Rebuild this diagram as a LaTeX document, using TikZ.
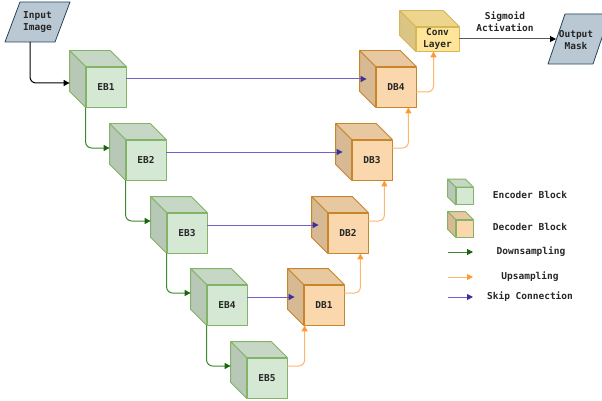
\documentclass[tikz,border=0pt]{standalone}
\usepackage{fontspec}
\setmonofont{DejaVu Sans Mono}
\usetikzlibrary{arrows.meta,calc}
\definecolor{encfill}{HTML}{D5E8D4}
\definecolor{encline}{HTML}{82B366}
\definecolor{decfill}{HTML}{FAD7AC}
\definecolor{decline}{HTML}{C8852A}
\definecolor{convfill}{HTML}{FFE599}
\definecolor{convline}{HTML}{D6B656}
\definecolor{iofill}{HTML}{BAC8D3}
\definecolor{ioline}{HTML}{23445D}
\definecolor{downc}{HTML}{3C8A2E}
\definecolor{downtip}{HTML}{1A6610}
\definecolor{upc}{HTML}{FFB570}
\definecolor{uptip}{HTML}{FF9A30}
\definecolor{skipc}{HTML}{6F63C9}
\definecolor{skiptip}{HTML}{3A2FA0}

\begin{document}
\begin{tikzpicture}[x=1pt, y=1pt, line join=round,
  font=\fontsize{9.5}{12}\selectfont\ttfamily\bfseries, text=black!85,
  enc/.style={draw=encline, fill=encfill, line width=0.8pt, minimum width=40, minimum height=40, inner sep=0pt},
  dec/.style={draw=decline, fill=decfill, line width=0.8pt, minimum width=40, minimum height=40, inner sep=0pt},
  io/.style={fill=iofill, draw=ioline, line width=0.8pt},
  down/.style={draw=downc, line width=1pt, rounded corners=6pt, -{Triangle[length=6pt,width=6pt,color=downtip]}},
  up/.style={draw=upc, line width=1pt, rounded corners=6pt, -{Triangle[length=6pt,width=6pt,color=uptip]}},
  skip/.style={draw=skipc, line width=1pt, -{Triangle[length=6pt,width=6pt,color=skiptip]}}]
  \useasboundingbox (0,0) rectangle (602,-401);
  % Input and output parallelograms
  \filldraw[io] (20,-2) -- (70,-2) -- (55,-42) -- (5,-42) -- cycle;
  \node[align=center] (inimg) at (37.5,-22) {Input\\Image};
  \coordinate (instart) at (30,-42);
  \filldraw[io] (565,-14) -- (610,-14) -- (593,-64) -- (548,-64) -- cycle;
  \node[align=center] (outmask) at (576,-40) {Output\\Mask};
  \coordinate (outin) at (556,-39);
  % Encoder blocks
  \node[enc] (eb1) at (106,-87) {EB1};
  \node[enc] (eb2) at (146,-160) {EB2};
  \node[enc] (eb3) at (187,-233) {EB3};
  \node[enc] (eb4) at (227,-305) {EB4};
  \node[enc] (eb5) at (267,-378) {EB5};
  % Decoder blocks
  \node[dec] (db1) at (324,-305) {DB1};
  \node[dec] (db2) at (348,-233) {DB2};
  \node[dec] (db3) at (372,-160) {DB3};
  \node[dec] (db4) at (396,-87) {DB4};
  % Conv layer
  \node[draw=convline, fill=convfill, line width=0.8pt, minimum width=43, minimum height=24, inner sep=0pt, align=center] (conv) at (437.5,-39) {Conv\\Layer};
  % Legend blocks
  \node[enc, minimum width=17, minimum height=17] (lenc) at (464.5,-196) {};
  \node[dec, draw=encline, minimum width=17, minimum height=17] (ldec) at (464.5,-228.5) {};
  % Top and side faces of the cubes
  \foreach \n/\d/\f/\c in {eb1/16/encfill/encline, eb2/16/encfill/encline, eb3/16/encfill/encline,
      eb4/16/encfill/encline, eb5/16/encfill/encline, db1/16/decfill/decline, db2/16/decfill/decline,
      db3/16/decfill/decline, db4/16/decfill/decline, conv/16/convfill/convline,
      lenc/8/encfill/encline, ldec/8/decfill/encline} {
    \filldraw[fill=\f!93!black, draw=\c, line width=0.8pt]
      (\n.north west) -- ++(-\d,\d) -- ($(\n.north east)+(-\d,\d)$) -- (\n.north east) -- cycle;
    \filldraw[fill=\f!86!black, draw=\c, line width=0.8pt]
      (\n.north west) -- ++(-\d,\d) -- ($(\n.south west)+(-\d,\d)$) -- (\n.south west) -- cycle;
  }
  % Input to first encoder
  \draw[-{Triangle[length=6pt,width=6pt]}, line width=1pt, rounded corners=6pt] (instart) |- ([shift={(-16,4)}]eb1.west);
  % Downsampling
  \draw[down] (eb1.south west) |- ([shift={(-16,12)}]eb2.west);
  \draw[down] (eb2.south west) |- ([shift={(-16,12)}]eb3.west);
  \draw[down] (eb3.south west) |- ([shift={(-16,12)}]eb4.west);
  \draw[down] (eb4.south west) |- ([shift={(-16,12)}]eb5.west);
  % Upsampling
  \draw[up] ([yshift=12]eb5.east) -| ([xshift=1]db1.south west);
  \draw[up] ([yshift=12]db1.east) -| ([xshift=-8]db2.south east);
  \draw[up] ([yshift=12]db2.east) -| ([xshift=-8]db3.south east);
  \draw[up] ([yshift=12]db3.east) -| ([xshift=-8]db4.south east);
  \draw[up] ([yshift=-5]db4.east) -| ([xshift=-4]conv.south);
  % Skip connections
  \draw[skip] ([yshift=8]eb1.east) -- ([shift={(-9,8)}]db4.west);
  \draw[skip] ([yshift=8]eb2.east) -- ([shift={(-9,8)}]db3.west);
  \draw[skip] ([yshift=8]eb3.east) -- ([shift={(-9,8)}]db2.west);
  \draw[skip] ([yshift=8]eb4.east) -- ([shift={(-9,8)}]db1.west);
  % Conv layer to output
  \node[align=center] (sigm) at (505,-22) {Sigmoid\\Activation};
  \draw[draw=black!65, line width=1pt, -{Triangle[length=6pt,width=6pt,color=black]}] (conv.east) -- (outin);
  % Legend
  \node (tenc) at (530,-195) {Encoder Block};
  \node (tdec) at (530,-227) {Decoder Block};
  \coordinate (ld1) at (448,-252); \coordinate (ld2) at (473,-252);
  \coordinate (lu1) at (448,-277); \coordinate (lu2) at (473,-277);
  \coordinate (ls1) at (448,-297); \coordinate (ls2) at (473,-297);
  \draw[down] (ld1) -- (ld2);
  \node (tdown) at (531,-252) {Downsampling};
  \draw[up] (lu1) -- (lu2);
  \node (tup) at (530,-277) {Upsampling};
  \draw[skip] (ls1) -- (ls2);
  \node (tskip) at (530,-297) {Skip Connection};
\end{tikzpicture}
\end{document}
